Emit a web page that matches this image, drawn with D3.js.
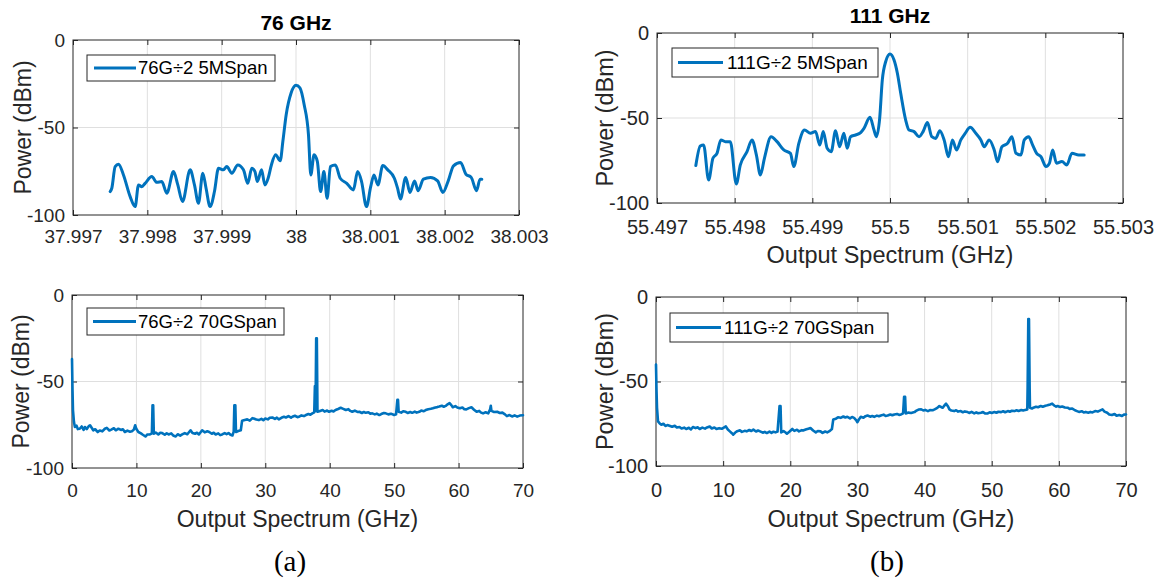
<!DOCTYPE html>
<html>
<head>
<meta charset="utf-8">
<script src="https://cdn.jsdelivr.net/npm/d3@7"></script>
<style>
  html, body { margin: 0; padding: 0; background: #fff; }
  svg { display: block; font-family: "Liberation Sans", Arial, sans-serif; }
</style>
</head>
<body>
<svg id="chart" width="1167" height="583"></svg>
<script>
// ---------------- DATA ----------------
const yTicks = [0, -50, -100];
const xTicks76 = [37.997, 37.998, 37.999, 38, 38.001, 38.002, 38.003];
const xTicks111 = [55.497, 55.498, 55.499, 55.5, 55.501, 55.502, 55.503];
const xTicksSpan = [0, 10, 20, 30, 40, 50, 60, 70];

const center76 = 38;      // GHz
const center111 = 55.5;   // GHz

// 76G/2, 5 MHz span : offset from centre (kHz) and power (dBm)
const a5mOffsetKHz = [-2500,-2478,-2433,-2388,-2321,-2231,-2164,-2119,-2074,-2030,-1940,-1873,-1805,-1738,-1648,-1590,-1527,-1424,-1366,-1312,-1254,-1210,-1156,-1097,-1043,-976,-931,-864,-783,-707,-649,-595,-552,-520,-463,-419,-375,-331,-274,-212,-177,-132,-66,0,53,110,168,199,243,287,331,375,419,463,529,595,683,772,829,882,948,1005,1049,1102,1168,1235,1323,1367,1405,1476,1533,1595,1643,1714,1810,1905,1976,2048,2119,2214,2286,2357,2429,2476,2500];
const a5mPower = [-86.6,-84.7,-72.3,-71,-77.1,-89.5,-95.2,-82.8,-83.8,-81.9,-78,-81.3,-80.9,-87.6,-75.2,-82.8,-92.3,-74.2,-82.8,-93.3,-76.1,-84.7,-95.2,-86.6,-73.3,-74.2,-72.3,-76.1,-71.4,-74.2,-81.9,-73.3,-75.2,-80.9,-74.2,-82.8,-79,-71.4,-65.6,-69,-58,-42.7,-30.3,-25.9,-27.4,-37,-54.2,-77.1,-65.6,-69.4,-86.6,-75.2,-90.4,-72.3,-71.4,-79,-81.9,-85.7,-75.2,-80.9,-95.2,-83.8,-77.1,-82.8,-71.7,-74.2,-79,-84.8,-90.9,-78.5,-87.1,-80.5,-86.1,-79.5,-78.5,-80.5,-87.1,-80.5,-71.9,-70,-76.7,-78.5,-86.1,-79.5,-79.5];

// 111G/2, 5 MHz span
const b5mOffsetKHz = [-2500,-2443,-2400,-2335,-2280,-2228,-2177,-2120,-2056,-1979,-1927,-1841,-1777,-1720,-1669,-1617,-1531,-1454,-1368,-1282,-1239,-1174,-1101,-1024,-959,-903,-860,-809,-757,-701,-649,-594,-551,-508,-443,-378,-335,-258,-206,-176,-133,-99,-56,0,52,95,138,202,245,310,374,426,482,538,589,641,697,753,804,856,912,968,1032,1105,1170,1213,1277,1342,1385,1441,1514,1570,1622,1686,1729,1785,1837,1888,1944,2009,2052,2095,2143,2214,2276,2343,2429,2500];
const b5mPower = [-78,-66.5,-65.9,-86.5,-73.7,-70.8,-62.9,-63.9,-63.9,-88.8,-77.6,-69.8,-62.9,-71.8,-83.5,-73.7,-61,-63.9,-68.8,-70.8,-78.6,-64.9,-57.1,-59,-58,-65.9,-58,-67.8,-69.8,-57.5,-66.9,-59,-67.8,-61,-60,-58.6,-56.1,-49.6,-57.1,-61,-50.2,-27.6,-16.9,-12.4,-15.9,-23.7,-35.5,-51.2,-57.1,-58,-61,-58,-52.7,-61,-62,-57.5,-62.9,-72.8,-62.9,-68.8,-62.9,-59,-55.5,-59,-62.9,-66.9,-62.9,-68.8,-75.7,-66.9,-64.9,-61,-70.8,-71.8,-62.9,-61,-65.9,-70.8,-72.8,-78.6,-76.7,-68.8,-76.6,-75.6,-77.6,-70.7,-71.7,-71.7];

// 76G/2, 70 GHz span : frequency (GHz) and power (dBm)
const a70Freq = [0,0.08,0.15,0.3,0.45,0.7,0.9,1.2,1.5,1.8,2.0,2.3,2.6,2.8,3.1,3.3,3.6,4.0,4.3,4.7,5.1,5.4,5.8,6.1,6.5,6.8,7.2,7.6,7.9,8.2,8.6,9.0,9.3,9.6,9.8,10.0,10.3,10.7,11.0,11.4,11.7,12.1,12.4,12.5,12.6,12.7,13.0,13.4,13.7,14.0,14.4,14.7,15.0,15.4,15.7,16.1,16.4,16.8,17.1,17.5,17.9,18.4,18.7,19.1,19.4,19.7,20.2,20.6,21.0,21.3,21.7,22.0,22.3,22.7,23.0,23.3,23.7,24.0,24.3,24.6,24.9,25.1,25.2,25.35,25.45,25.8,26.2,26.4,26.8,27.2,27.6,28.0,28.2,28.6,29.0,29.4,29.7,30.0,30.4,30.7,31.1,31.5,31.8,32.1,32.5,32.9,33.2,33.6,34.0,34.2,34.6,35.0,35.2,35.6,36.0,36.3,36.7,37.0,37.3,37.6,37.7,37.8,37.9,38.0,38.1,38.5,38.9,39.2,39.6,39.9,40.3,40.6,40.9,41.3,41.7,42.1,42.5,42.9,43.2,43.5,43.9,44.3,44.6,45.0,45.3,45.6,46.0,46.3,46.6,47.0,47.3,47.7,48.0,48.4,48.7,49.1,49.5,50.0,50.3,50.5,50.6,50.7,51.1,51.4,51.8,52.1,52.5,52.8,53.2,53.5,53.9,54.2,54.6,54.9,55.3,55.7,56.0,56.4,56.7,57.0,57.4,57.7,58.0,58.3,58.6,58.9,59.1,59.5,59.8,60.2,60.6,60.9,61.2,61.6,62.0,62.4,62.8,63.2,63.5,63.8,64.2,64.6,64.9,65.0,65.1,65.5,66.0,66.4,66.8,67.2,67.5,67.9,68.3,68.7,69.1,69.5,70.0];
const a70Power = [-37,-55,-66.5,-73.3,-76.3,-75.5,-77.5,-77.3,-76,-78,-76.3,-77.5,-75.8,-75.3,-77,-78.2,-77.6,-79.2,-78.3,-78.8,-77.3,-76.8,-78.3,-77.8,-77,-78.2,-77.3,-78,-77.6,-79.2,-78.4,-79,-78.8,-77.8,-75.3,-77.5,-79.2,-80,-80.8,-81.8,-80.6,-80.6,-80,-63.7,-63.7,-80.2,-79.5,-80.6,-79.6,-79.8,-80.8,-79.9,-80.6,-80,-81.2,-81.8,-80.5,-81.3,-80.6,-79.8,-80.5,-78.2,-79.8,-80.2,-79.6,-80.6,-78.2,-79.4,-78.8,-79.2,-80.2,-79.6,-80.6,-80,-81,-80.6,-79.8,-80.4,-79.8,-80.8,-81.2,-79,-63.7,-63.7,-79.2,-78.6,-78.2,-72.7,-72.2,-71.9,-72.6,-71.2,-71.4,-72,-72.3,-71.6,-72.4,-71.4,-71.9,-71,-70.8,-71.6,-70.9,-71.9,-71,-70.4,-70.8,-70,-70.9,-70.4,-69.8,-70.6,-70.4,-69.6,-70,-69.4,-68.8,-69.2,-68.4,-67.8,-52.7,-67,-25,-25,-67.5,-67,-66.5,-67.4,-66.8,-67.5,-66.9,-67.3,-66.5,-65.9,-65.2,-65.8,-66.5,-66,-67,-67.5,-66.8,-67.6,-67.5,-68.2,-67.6,-68.1,-67.8,-68.6,-68.4,-69,-68.6,-69.4,-68.8,-68.2,-68.4,-69,-68.6,-69.4,-69,-60.6,-60.6,-67.5,-68,-67.2,-67.5,-68.2,-67.6,-68.1,-67.4,-68,-67.5,-66.8,-67.2,-66.5,-66,-65.8,-65.5,-65,-64.8,-64.5,-64,-64.6,-64.1,-63.2,-62.5,-63.8,-64.9,-64.2,-65,-65.5,-65,-66,-66.1,-65.4,-64.9,-66.3,-67.5,-67,-68,-68.4,-67.8,-68.4,-66,-64,-67,-67.6,-67.5,-68.2,-68,-69,-70,-69.4,-70.2,-69.6,-70.3,-69.7,-69.5];

// 111G/2, 70 GHz span
const b70Freq = [0,0.08,0.15,0.3,0.55,0.8,1.1,1.4,1.7,2.0,2.4,2.8,3.1,3.5,3.8,4.2,4.5,4.9,5.2,5.5,5.9,6.2,6.5,6.9,7.3,7.6,8.0,8.3,8.7,9.0,9.4,9.8,10.1,10.4,10.7,11.0,11.3,11.5,11.8,12.1,12.5,12.8,13.2,13.5,13.9,14.2,14.5,14.9,15.2,15.5,15.9,16.2,16.5,16.9,17.2,17.5,17.8,18.1,18.4,18.55,18.65,19.0,19.3,19.5,19.9,20.3,20.6,21.0,21.3,21.7,22.0,22.4,22.7,23.0,23.4,23.8,24.1,24.5,24.8,25.2,25.5,25.9,26.2,26.4,26.8,27.1,27.5,27.9,28.2,28.5,28.9,29.2,29.5,29.8,30.0,30.3,30.5,30.9,31.2,31.5,31.9,32.2,32.5,32.9,33.2,33.5,33.9,34.2,34.5,34.9,35.2,35.5,35.9,36.2,36.5,36.8,36.95,37.1,37.2,37.6,38.0,38.5,38.8,39.1,39.5,39.8,40.1,40.5,40.8,41.2,41.5,41.9,42.2,42.5,42.7,43.0,43.2,43.5,43.7,44.0,44.4,44.7,45.0,45.4,45.7,46.0,46.4,46.7,47.0,47.4,47.7,48.0,48.4,48.7,49.0,49.4,49.7,50.0,50.4,50.7,51.0,51.4,51.7,52.0,52.4,52.7,53.0,53.4,53.7,54.0,54.4,54.7,55.0,55.3,55.35,55.45,55.55,55.65,55.7,56.0,56.2,56.6,56.9,57.3,57.6,58.0,58.3,58.7,59.0,59.3,59.6,59.8,60.2,60.5,60.9,61.3,61.6,62.0,62.4,62.7,63.0,63.4,63.7,64.0,64.4,64.7,65.0,65.4,65.8,66.1,66.5,66.8,67.2,67.5,67.9,68.3,68.6,69.0,69.4,69.7,70.0];
const b70Power = [-40,-56,-65.6,-73.6,-74.8,-75.6,-75,-76.3,-75.8,-76.2,-76.8,-76.2,-77.2,-76.9,-77.8,-77.3,-78.1,-77.4,-78.4,-76.9,-77.6,-77.1,-78.1,-77.3,-77.9,-77.2,-76.6,-77.8,-77.2,-78.1,-77.6,-78,-77.3,-76.6,-78.4,-79.5,-80.6,-81.5,-80.2,-79.4,-78.9,-79.8,-79.2,-79.5,-78.7,-79.3,-78.5,-79.6,-79,-79.5,-80.3,-79.8,-80.5,-79.6,-80.4,-79.7,-80.1,-79.6,-64.6,-64.6,-80.1,-79.4,-80.2,-80.9,-79.6,-78.1,-79.2,-78.6,-79.5,-78.8,-78.9,-78.3,-77.9,-77.5,-79,-80.1,-79.3,-79.5,-80.4,-79.6,-80.1,-79.2,-78.1,-72.5,-72,-71.2,-71.5,-70.7,-71.3,-70.9,-71.8,-71,-71.5,-72.8,-74.1,-72,-70.9,-71.4,-70.5,-70.1,-70.8,-70.4,-70.9,-70.2,-70.6,-70.1,-69.6,-70.4,-70.1,-69.5,-70,-69.5,-69.2,-69.8,-69.5,-68.8,-59,-59,-68.9,-68.4,-68.6,-68.1,-67.2,-66.6,-66.5,-67.1,-66.8,-67.5,-66.9,-67,-66.5,-65.6,-64.5,-65.2,-65.5,-64,-63.1,-64.8,-66.5,-67.2,-67.5,-67,-67.8,-67.5,-68.2,-67.7,-68.1,-68.6,-68,-68.9,-68.3,-68.8,-68.5,-68.1,-68.9,-68.9,-68.2,-68.6,-68.1,-68.5,-67.9,-68.1,-67.6,-68.2,-67.5,-67.9,-67.3,-67.5,-67,-67.4,-66.9,-67.2,-66.8,-66.5,-53.3,-13,-13,-53.9,-65.5,-66,-65.5,-64.9,-65.2,-64.5,-64.9,-64.3,-64.1,-63.6,-63.1,-64.2,-64.9,-64.5,-65.1,-64.8,-65.4,-65.5,-66.2,-66,-67,-67.5,-68,-67.6,-68.3,-68,-68.5,-68,-68.3,-67.5,-67.8,-67.2,-66.5,-67.8,-68.5,-69.5,-69.8,-69.2,-70.3,-69.8,-70.4,-69.6,-69.5];

const titles = ["76 GHz", "111 GHz"];
const legendLabels = ["76G\u00F72 5MSpan", "111G\u00F72 5MSpan", "76G\u00F72 70GSpan", "111G\u00F72 70GSpan"];
const yLabel = "Power (dBm)";
const xLabel = "Output Spectrum (GHz)";
const subLabels = ["(a)", "(b)"];

// ---------------- DRAW ----------------
const svg = d3.select("#chart");
const LINE = "#0072BD";
const AX = "#262626";
const GRID = "#dfdfdf";

function tickFmt(v) { return String(+v.toFixed(3)); }

function panel(o) {
  const x = d3.scaleLinear().domain(o.xDomain).range([o.left, o.right]);
  const y = d3.scaleLinear().domain([-100, 0]).range([o.bottom, o.top]);
  const g = svg.append("g");

  // grid
  g.append("g").selectAll("line").data(o.xTicks.slice(1, -1)).join("line")
    .attr("x1", d => x(d)).attr("x2", d => x(d)).attr("y1", o.top).attr("y2", o.bottom)
    .attr("stroke", GRID).attr("stroke-width", 1);
  g.append("g").selectAll("line").data(yTicks.slice(1, -1)).join("line")
    .attr("y1", d => y(d)).attr("y2", d => y(d)).attr("x1", o.left).attr("x2", o.right)
    .attr("stroke", GRID).attr("stroke-width", 1);

  // axes
  const fs = o.tickFont;
  const xa = g.append("g").attr("transform", `translate(0,${o.bottom})`)
    .call(d3.axisBottom(x).tickValues(o.xTicks).tickSize(-5).tickPadding(o.xPad).tickFormat(tickFmt));
  const ya = g.append("g").attr("transform", `translate(${o.left},0)`)
    .call(d3.axisLeft(y).tickValues(yTicks).tickSize(-5).tickPadding(8).tickFormat(d => String(d)));
  const xt = g.append("g").attr("transform", `translate(0,${o.top})`)
    .call(d3.axisTop(x).tickValues(o.xTicks).tickSize(-5).tickFormat(""));
  const yr = g.append("g").attr("transform", `translate(${o.right},0)`)
    .call(d3.axisRight(y).tickValues(yTicks).tickSize(-5).tickFormat(""));
  [xa, ya, xt, yr].forEach(a => {
    a.select(".domain").remove();
    a.selectAll(".tick line").attr("stroke", AX).attr("stroke-width", 1);
    a.selectAll(".tick text").attr("fill", AX).style("font-size", fs + "px")
      .style("font-family", '"Liberation Sans", Arial, sans-serif');
  });
  // box
  g.append("rect").attr("x", o.left).attr("y", o.top)
    .attr("width", o.right - o.left).attr("height", o.bottom - o.top)
    .attr("fill", "none").attr("stroke", AX).attr("stroke-width", 1);

  // data line
  const line = d3.line().x(d => x(d[0])).y(d => y(d[1])).curve(o.curve || d3.curveLinear);
  const pts = o.xs.map((v, i) => [v, o.ys[i]]);
  g.append("path").datum(pts).attr("d", line)
    .attr("fill", "none").attr("stroke", LINE).attr("stroke-width", o.lw)
    .attr("stroke-linejoin", "round").attr("stroke-linecap", "round");

  // legend
  const L = o.legend;
  g.append("rect").attr("x", L.x0).attr("y", L.y0).attr("width", L.x1 - L.x0).attr("height", L.y1 - L.y0)
    .attr("fill", "#fff").attr("stroke", AX).attr("stroke-width", 1);
  const cy = (L.y0 + L.y1) / 2;
  g.append("line").attr("x1", L.lx0).attr("x2", L.lx1).attr("y1", cy).attr("y2", cy)
    .attr("stroke", LINE).attr("stroke-width", 3);
  g.append("text").attr("x", L.tx).attr("y", cy).attr("dy", "0.35em")
    .style("font-size", L.fs + "px").attr("fill", "#000").text(L.text);

  // y label
  g.append("text").attr("transform", `translate(${o.yLabX},${(o.top + o.bottom) / 2}) rotate(-90)`)
    .attr("text-anchor", "middle").attr("dy", "0.35em").attr("fill", AX)
    .style("font-size", o.labFont + "px").text(yLabel);
  if (o.xLabY) {
    g.append("text").attr("x", (o.left + o.right) / 2).attr("y", o.xLabY)
      .attr("text-anchor", "middle").attr("fill", AX)
      .style("font-size", o.labFont + "px").text(xLabel);
  }
  if (o.title) {
    g.append("text").attr("x", (o.left + o.right) / 2).attr("y", o.titleY)
      .attr("text-anchor", "middle").attr("fill", "#000").attr("font-weight", "bold")
      .style("font-size", "21px").text(o.title);
  }
  if (o.sub) {
    g.append("text").attr("x", o.sub.x).attr("y", o.sub.y)
      .attr("text-anchor", "middle").attr("fill", "#000")
      .style("font-family", '"Liberation Serif", "Times New Roman", serif')
      .style("font-size", "29px").text(o.sub.text);
  }
}

panel({
  left: 73, right: 519, top: 40, bottom: 215,
  xDomain: [37.997, 38.003], xTicks: xTicks76, xPad: 15, tickFont: 19, labFont: 23,
  xs: a5mOffsetKHz.map(k => center76 + k / 1e6), ys: a5mPower, lw: 3, curve: d3.curveMonotoneX,
  legend: { x0: 87, y0: 55, x1: 275, y1: 81, lx0: 94, lx1: 136, tx: 138, fs: 18.5, text: legendLabels[0] },
  yLabX: 23, title: titles[0], titleY: 30
});
panel({
  left: 657, right: 1123, top: 33, bottom: 203,
  xDomain: [55.497, 55.503], xTicks: xTicks111, xPad: 17, tickFont: 20, labFont: 23.5,
  xs: b5mOffsetKHz.map(k => center111 + k / 1e6), ys: b5mPower, lw: 3, curve: d3.curveMonotoneX,
  legend: { x0: 672, y0: 48, x1: 878, y1: 77, lx0: 678, lx1: 723, tx: 727, fs: 19, text: legendLabels[1] },
  yLabX: 605, xLabY: 263, title: titles[1], titleY: 23
});
panel({
  left: 72, right: 523, top: 295, bottom: 468,
  xDomain: [0, 70], xTicks: xTicksSpan, xPad: 16, tickFont: 19, labFont: 23,
  xs: a70Freq, ys: a70Power, lw: 2.6,
  legend: { x0: 87, y0: 308, x1: 284, y1: 335, lx0: 93, lx1: 136, tx: 138, fs: 18.5, text: legendLabels[2] },
  yLabX: 21, xLabY: 527, sub: { x: 290, y: 571, text: subLabels[0] }
});
panel({
  left: 656, right: 1126, top: 297, bottom: 466,
  xDomain: [0, 70], xTicks: xTicksSpan, xPad: 17, tickFont: 20, labFont: 23.5,
  xs: b70Freq, ys: b70Power, lw: 2.6,
  legend: { x0: 670, y0: 313, x1: 888, y1: 342, lx0: 676, lx1: 721, tx: 724, fs: 19, text: legendLabels[3] },
  yLabX: 605, xLabY: 527, sub: { x: 887, y: 571, text: subLabels[1] }
});
</script>
</body>
</html>
